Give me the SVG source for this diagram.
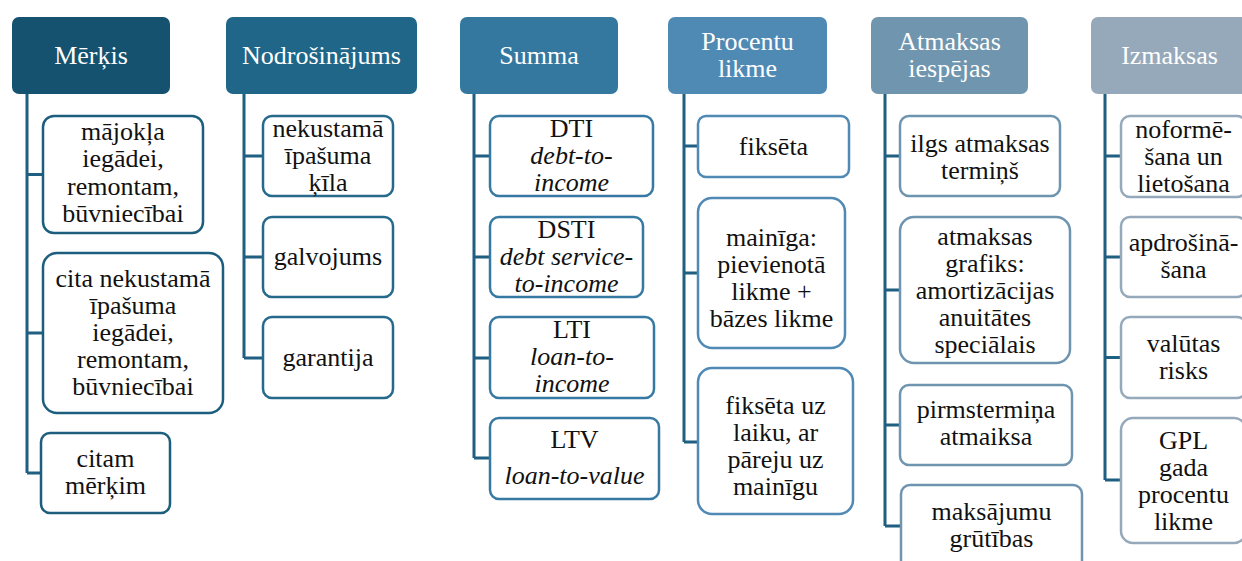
<svg xmlns="http://www.w3.org/2000/svg" width="1242" height="561" viewBox="0 0 1242 561">
<style>
text{font-family:"Liberation Serif","Times New Roman",serif;font-size:26px;text-anchor:middle;fill:#111;stroke:none}
.h text{fill:#fff}
.c rect{fill:#fff;stroke-width:2.5}
.k1 rect{stroke:#1d5e7f}
.k2 rect{stroke:#25698c}
.k3 rect{stroke:#367aa3}
.k4 rect{stroke:#4f89b4}
.k5 rect{stroke:#6e94b0}
.k6 rect{stroke:#95a9bb}
.it{font-style:italic}
#conn path{fill:none;stroke:#1f5f82;stroke-width:3}
</style>
<rect width="1242" height="561" fill="#fff"/>
<g id="conn">
<path d="M27 94V473M27 174.5H43M27 333H43M27 473H41"/>
<path d="M244 94V358M244 156H263M244 257H263M244 358H263"/>
<path d="M474 94V458M474 156H490M474 257H490M474 358H490M474 458H490"/>
<path d="M684 94V442M684 146H698M684 273H698M684 442H698"/>
<path d="M885 94V526M885 156H900M885 290H900M885 425H900M885 526H901"/>
<path d="M1105 94V480M1105 156H1121M1105 257H1121M1105 357.5H1121M1105 480H1121"/>
</g>
<g id="h1" class="h"><rect x="12" y="17" width="158" height="77" rx="7" fill="#15526f"/><text x="91" y="64">Mērķis</text></g>
<g id="h2" class="h"><rect x="226" y="17" width="191" height="77" rx="7" fill="#1f6688"/><text x="321.5" y="64">Nodrošinājums</text></g>
<g id="h3" class="h"><rect x="460" y="17" width="158" height="77" rx="7" fill="#34789f"/><text x="539" y="64">Summa</text></g>
<g id="h4" class="h"><rect x="668" y="17" width="159" height="77" rx="7" fill="#4f8ab5"/><text x="747.5" y="50">Procentu</text><text x="747.5" y="77">likme</text></g>
<g id="h5" class="h"><rect x="871" y="17" width="157" height="77" rx="7" fill="#7095ae"/><text x="949.5" y="50">Atmaksas</text><text x="949.5" y="77">iespējas</text></g>
<g id="h6" class="h"><rect x="1091" y="17" width="160" height="77" rx="7" fill="#96a9ba"/><text x="1169.5" y="64">Izmaksas</text></g>

<g class="c k1">
<g id="c1a"><rect x="43" y="116" width="160" height="117" rx="11"/><text x="123" y="140">mājokļa</text><text x="123" y="167">iegādei,</text><text x="123" y="195">remontam,</text><text x="123" y="222">būvniecībai</text></g>
<g id="c1b"><rect x="43" y="253" width="180" height="160" rx="14"/><text x="133" y="287">cita nekustamā</text><text x="133" y="314">īpašuma</text><text x="133" y="341">iegādei,</text><text x="133" y="368">remontam,</text><text x="133" y="395">būvniecībai</text></g>
<g id="c1c"><rect x="41" y="433" width="129" height="80" rx="9"/><text x="105.5" y="467">citam</text><text x="105.5" y="494">mērķim</text></g>
</g>
<g class="c k2">
<g id="c2a"><rect x="263" y="116" width="130" height="80" rx="9"/><text x="328" y="137">nekustamā</text><text x="328" y="164">īpašuma</text><text x="328" y="191">ķīla</text></g>
<g id="c2b"><rect x="263" y="217" width="130" height="80" rx="9"/><text x="328" y="265">galvojums</text></g>
<g id="c2c"><rect x="263" y="317" width="130" height="81" rx="9"/><text x="328" y="366">garantija</text></g>
</g>
<g class="c k3">
<g id="c3a"><rect x="490" y="116" width="163" height="80" rx="9"/><text x="571.5" y="137">DTI</text><text class="it" x="571.5" y="164">debt-to-</text><text class="it" x="571.5" y="191">income</text></g>
<g id="c3b"><rect x="490" y="217" width="153" height="80" rx="9"/><text x="566.5" y="238">DSTI</text><text class="it" x="566.5" y="265">debt service-</text><text class="it" x="566.5" y="292">to-income</text></g>
<g id="c3c"><rect x="490" y="317" width="164" height="81" rx="9"/><text x="572" y="338">LTI</text><text class="it" x="572" y="365">loan-to-</text><text class="it" x="572" y="392">income</text></g>
<g id="c3d"><rect x="490" y="418" width="169" height="81" rx="9"/><text x="574.5" y="448">LTV</text><text class="it" x="574.5" y="484">loan-to-value</text></g>
</g>
<g class="c k4">
<g id="c4a"><rect x="698" y="116" width="151" height="61" rx="8"/><text x="773.5" y="154.5">fiksēta</text></g>
<g id="c4b"><rect x="698" y="198" width="147" height="150" rx="14"/><text x="771.5" y="246">mainīga:</text><text x="771.5" y="273">pievienotā</text><text x="771.5" y="300">likme +</text><text x="771.5" y="327">bāzes likme</text></g>
<g id="c4c"><rect x="698" y="368" width="155" height="146" rx="14"/><text x="775.5" y="414">fiksēta uz</text><text x="775.5" y="441">laiku, ar</text><text x="775.5" y="468">pāreju uz</text><text x="775.5" y="495">mainīgu</text></g>
</g>
<g class="c k5">
<g id="c5a"><rect x="900" y="116" width="160" height="80" rx="9"/><text x="980" y="152">ilgs atmaksas</text><text x="980" y="179">termiņš</text></g>
<g id="c5b"><rect x="900" y="217" width="170" height="146" rx="14"/><text x="985" y="245">atmaksas</text><text x="985" y="272">grafiks:</text><text x="985" y="299">amortizācijas</text><text x="985" y="326">anuitātes</text><text x="985" y="353">speciālais</text></g>
<g id="c5c"><rect x="900" y="385" width="172" height="80" rx="9"/><text x="986" y="418">pirmstermiņa</text><text x="986" y="445">atmaiksa</text></g>
<g id="c5d"><rect x="901" y="485" width="181" height="90" rx="9"/><text x="991.5" y="520">maksājumu</text><text x="991.5" y="547">grūtības</text></g>
</g>
<g class="c k6">
<g id="c6a"><rect x="1121" y="116" width="125" height="81" rx="9"/><text x="1183.5" y="138">noformē-</text><text x="1183.5" y="165">šana un</text><text x="1183.5" y="192">lietošana</text></g>
<g id="c6b"><rect x="1121" y="217" width="125" height="80" rx="9"/><text x="1183.5" y="251">apdrošinā-</text><text x="1183.5" y="278">šana</text></g>
<g id="c6c"><rect x="1121" y="317" width="125" height="81" rx="9"/><text x="1183.5" y="352">valūtas</text><text x="1183.5" y="379">risks</text></g>
<g id="c6d"><rect x="1121" y="418" width="125" height="125" rx="12"/><text x="1183.5" y="449">GPL</text><text x="1183.5" y="476">gada</text><text x="1183.5" y="503">procentu</text><text x="1183.5" y="530">likme</text></g>
</g>
</svg>
